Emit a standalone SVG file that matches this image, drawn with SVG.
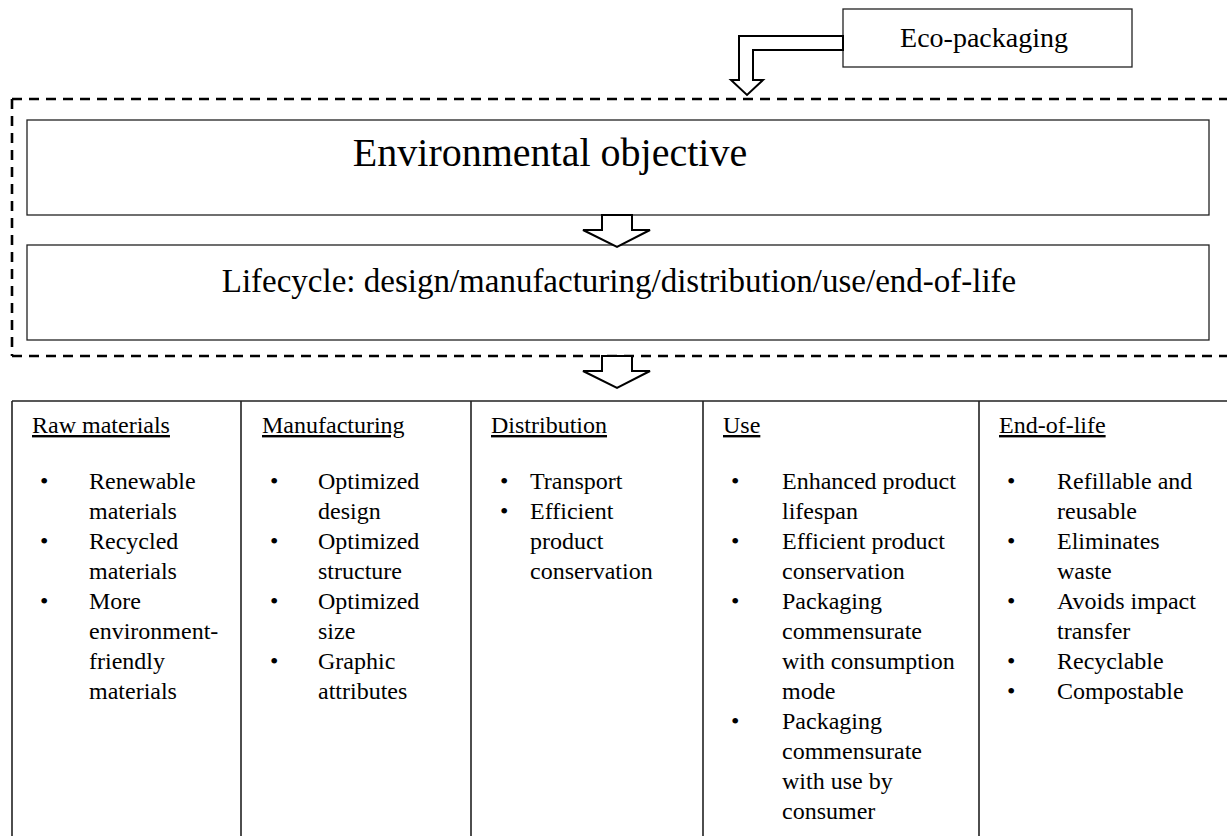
<svg xmlns="http://www.w3.org/2000/svg" width="1227" height="836" viewBox="0 0 1227 836">
  <style>
    .t { font-family: "Liberation Serif", "Times New Roman", serif; fill: #000; }
    .box { fill: #fff; stroke: #222; stroke-width: 1.3; }
    .dash { fill: none; stroke: #000; stroke-width: 2.6; stroke-dasharray: 10 7; }
    .blk { fill: #fff; stroke: #000; stroke-width: 2; stroke-linejoin: miter; }
    .grid { stroke: #222; stroke-width: 1.6; fill: none; }
    .cell { font-size: 24px; }
    .hd { font-size: 24px; text-decoration: underline; }
  </style>
  <rect width="1227" height="836" fill="#fff"/>

  <!-- dashed frame around objective and lifecycle -->
  <g id="frame">
    <path class="dash" d="M12 99 H1227 M12 99 V356 M12 356 H1227"/>
  </g>

  <g id="eco-packaging">
    <rect class="box" x="843" y="9" width="289" height="58"/>
    <text class="t" x="984" y="47" font-size="28" text-anchor="middle">Eco-packaging</text>
  </g>

  <g id="objective">
    <rect class="box" x="27" y="120" width="1182" height="95"/>
    <text class="t" x="550" y="166" font-size="40" text-anchor="middle">Environmental objective</text>
  </g>

  <g id="lifecycle">
    <rect class="box" x="27" y="245" width="1182" height="95"/>
    <text class="t" x="619" y="292" font-size="33" text-anchor="middle">Lifecycle: design/manufacturing/distribution/use/end-of-life</text>
  </g>

  <!-- block arrows -->
  <g id="connectors">
    <polygon class="blk" points="843,36 739,36 739,80 731,80 747,95 763,80 753,80 753,50 843,50"/>
    <polygon class="blk" points="602,215 632,215 632,230 650,230 617,247 583,230 602,230"/>
    <polygon class="blk" points="602,356 632,356 632,371 650,371 617,388 583,371 602,371"/>
  </g>

  <!-- stages table -->
  <g id="table">
    <path class="grid" d="M12 401 H1227 M12 401 V836 M241 401 V836 M471 401 V836 M703 401 V836 M979 401 V836"/>
  </g>

  <g id="col-raw" class="t cell">
    <text class="hd" x="32" y="433">Raw materials</text>
    <text x="40" y="489">•</text>
    <text x="89" y="489">Renewable</text>
    <text x="89" y="519">materials</text>
    <text x="40" y="549">•</text>
    <text x="89" y="549">Recycled</text>
    <text x="89" y="579">materials</text>
    <text x="40" y="609">•</text>
    <text x="89" y="609">More</text>
    <text x="89" y="639">environment-</text>
    <text x="89" y="669">friendly</text>
    <text x="89" y="699">materials</text>
  </g>

  <g id="col-manufacturing" class="t cell">
    <text class="hd" x="262" y="433">Manufacturing</text>
    <text x="270" y="489">•</text>
    <text x="318" y="489">Optimized</text>
    <text x="318" y="519">design</text>
    <text x="270" y="549">•</text>
    <text x="318" y="549">Optimized</text>
    <text x="318" y="579">structure</text>
    <text x="270" y="609">•</text>
    <text x="318" y="609">Optimized</text>
    <text x="318" y="639">size</text>
    <text x="270" y="669">•</text>
    <text x="318" y="669">Graphic</text>
    <text x="318" y="699">attributes</text>
  </g>

  <g id="col-distribution" class="t cell">
    <text class="hd" x="491" y="433">Distribution</text>
    <text x="500" y="489">•</text>
    <text x="530" y="489">Transport</text>
    <text x="500" y="519">•</text>
    <text x="530" y="519">Efficient</text>
    <text x="530" y="549">product</text>
    <text x="530" y="579">conservation</text>
  </g>

  <g id="col-use" class="t cell">
    <text class="hd" x="723" y="433">Use</text>
    <text x="731" y="489">•</text>
    <text x="782" y="489">Enhanced product</text>
    <text x="782" y="519">lifespan</text>
    <text x="731" y="549">•</text>
    <text x="782" y="549">Efficient product</text>
    <text x="782" y="579">conservation</text>
    <text x="731" y="609">•</text>
    <text x="782" y="609">Packaging</text>
    <text x="782" y="639">commensurate</text>
    <text x="782" y="669">with consumption</text>
    <text x="782" y="699">mode</text>
    <text x="731" y="729">•</text>
    <text x="782" y="729">Packaging</text>
    <text x="782" y="759">commensurate</text>
    <text x="782" y="789">with use by</text>
    <text x="782" y="819">consumer</text>
  </g>

  <g id="col-end-of-life" class="t cell">
    <text class="hd" x="999" y="433">End-of-life</text>
    <text x="1007" y="489">•</text>
    <text x="1057" y="489">Refillable and</text>
    <text x="1057" y="519">reusable</text>
    <text x="1007" y="549">•</text>
    <text x="1057" y="549">Eliminates</text>
    <text x="1057" y="579">waste</text>
    <text x="1007" y="609">•</text>
    <text x="1057" y="609">Avoids impact</text>
    <text x="1057" y="639">transfer</text>
    <text x="1007" y="669">•</text>
    <text x="1057" y="669">Recyclable</text>
    <text x="1007" y="699">•</text>
    <text x="1057" y="699">Compostable</text>
  </g>
</svg>
